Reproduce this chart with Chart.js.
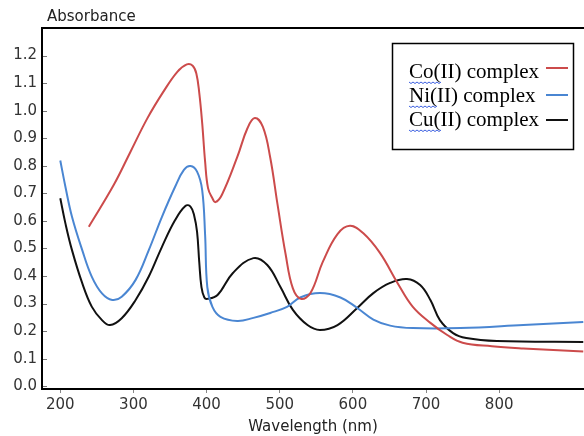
<!DOCTYPE html>
<html>
<head>
<meta charset="utf-8">
<script src="https://cdn.jsdelivr.net/npm/chart.js@4"></script>
<style>
  html, body { margin: 0; padding: 0; background: #fff; }
  canvas { display: block; }
</style>
</head>
<body>
<canvas id="myChart" width="584" height="436"></canvas>
<script>
// spectra (nm, absorbance)
const coWavelength = [239, 273, 296, 319, 341, 360, 373, 381, 386, 390, 394, 398, 402, 408, 412, 421, 442, 456, 466, 477, 487, 497, 508, 518, 529, 542, 559, 579, 596, 614, 637, 661, 682, 706, 729, 750, 790, 833, 915];
const coAbsorbance = [0.579, 0.730, 0.851, 0.972, 1.069, 1.141, 1.168, 1.163, 1.135, 1.065, 0.955, 0.815, 0.719, 0.682, 0.668, 0.695, 0.832, 0.937, 0.973, 0.941, 0.830, 0.660, 0.480, 0.355, 0.317, 0.338, 0.452, 0.552, 0.582, 0.556, 0.484, 0.375, 0.288, 0.230, 0.186, 0.158, 0.145, 0.137, 0.126];

const niWavelength = [200, 207, 216, 230, 243, 257, 271, 284, 303, 321, 339, 357, 369, 378, 387, 394, 398, 401, 408, 419, 442, 464, 487, 510, 528, 555, 583, 606, 628, 651, 682, 747, 833, 915];
const niAbsorbance = [0.819, 0.724, 0.615, 0.494, 0.398, 0.337, 0.313, 0.325, 0.386, 0.494, 0.615, 0.724, 0.785, 0.799, 0.779, 0.712, 0.549, 0.360, 0.288, 0.252, 0.237, 0.248, 0.266, 0.288, 0.322, 0.338, 0.322, 0.284, 0.242, 0.220, 0.211, 0.211, 0.222, 0.233];

const cuWavelength = [200, 207, 216, 230, 243, 257, 268, 284, 303, 321, 339, 357, 371, 378, 383, 387, 390, 393, 397, 401, 415, 436, 464, 483, 501, 518, 538, 555, 579, 606, 628, 651, 674, 692, 706, 719, 737, 755, 797, 915];
const cuAbsorbance = [0.682, 0.591, 0.494, 0.374, 0.289, 0.240, 0.222, 0.247, 0.313, 0.398, 0.506, 0.603, 0.654, 0.652, 0.620, 0.560, 0.450, 0.360, 0.322, 0.317, 0.331, 0.411, 0.465, 0.440, 0.360, 0.277, 0.222, 0.204, 0.222, 0.284, 0.338, 0.375, 0.389, 0.367, 0.313, 0.240, 0.193, 0.175, 0.164, 0.161];

const seriesNames = ['Co(II) complex', 'Ni(II) complex', 'Cu(II) complex'];
const seriesColors = ['#cc4b4b', '#4a86d2', '#111111'];

const xTicks = [200, 300, 400, 500, 600, 700, 800];
const yTicks = [0, 0.1, 0.2, 0.3, 0.4, 0.5, 0.6, 0.7, 0.8, 0.9, 1.0, 1.1, 1.2];

const toPoints = (xs, ys) => xs.map((x, i) => ({ x: x, y: ys[i] }));

const seriesData = [
    toPoints(coWavelength, coAbsorbance),
    toPoints(niWavelength, niAbsorbance),
    toPoints(cuWavelength, cuAbsorbance)
];

// frame top line, inner y ticks, "Absorbance" label and the boxed legend
const decorations = {
    id: 'decorations',
    afterDraw(chart) {
        const { ctx, chartArea } = chart;
        const yScale = chart.scales.y;
        ctx.save();

        ctx.strokeStyle = '#000';
        ctx.lineWidth = 2;
        ctx.beginPath();
        ctx.moveTo(chartArea.left - 1, chartArea.top);
        ctx.lineTo(chartArea.right, chartArea.top);
        ctx.stroke();

        ctx.strokeStyle = '#777';
        ctx.lineWidth = 1;
        yTicks.forEach(v => {
            const y = Math.round(yScale.getPixelForValue(v)) + 0.5;
            ctx.beginPath();
            ctx.moveTo(chartArea.left + 1, y);
            ctx.lineTo(chartArea.left + 5, y);
            ctx.stroke();
        });

        ctx.fillStyle = '#222';
        ctx.font = '15px "DejaVu Sans"';
        ctx.textAlign = 'left';
        ctx.textBaseline = 'middle';
        ctx.fillText('Absorbance', 47, 17);

        // legend box
        ctx.strokeStyle = '#000';
        ctx.lineWidth = 1.5;
        ctx.strokeRect(392.5, 43.5, 181, 106);

        const rowY = [72, 96, 120];
        const lineY = [68, 95, 120];
        const squiggleW = [33, 28, 33];
        ctx.font = '21px "Liberation Serif"';
        seriesNames.forEach((name, i) => {
            ctx.fillStyle = '#000';
            ctx.fillText(name, 409, rowY[i]);

            ctx.strokeStyle = seriesColors[i];
            ctx.lineWidth = 2;
            ctx.beginPath();
            ctx.moveTo(546, lineY[i]);
            ctx.lineTo(568, lineY[i]);
            ctx.stroke();

            // spell-check squiggle under the element symbol
            ctx.strokeStyle = '#3a5ee0';
            ctx.lineWidth = 1;
            ctx.beginPath();
            const sy = rowY[i] + 10;
            for (let x = 0; x <= squiggleW[i]; x += 2) {
                const yy = sy + ((x / 2) % 2 === 0 ? 0 : 1.5);
                if (x === 0) ctx.moveTo(409 + x, yy); else ctx.lineTo(409 + x, yy);
            }
            ctx.stroke();
        });

        ctx.restore();
    }
};

const ctx = document.getElementById('myChart');

new Chart(ctx, {
    type: 'line',
    data: {
        datasets: seriesData.map((pts, i) => ({
            label: seriesNames[i],
            data: pts,
            borderColor: seriesColors[i],
            borderWidth: 2,
            pointRadius: 0,
            fill: false,
            tension: 0.4
        }))
    },
    options: {
        responsive: false,
        animation: false,
        layout: { padding: { top: 28, right: 0, left: 0, bottom: 0 } },
        plugins: {
            legend: { display: false },
            tooltip: { enabled: false }
        },
        scales: {
            x: {
                type: 'linear',
                min: 175,
                max: 916,
                afterBuildTicks: scale => { scale.ticks = xTicks.map(v => ({ value: v })); },
                afterFit: scale => { scale.height = 47; },
                grid: { drawOnChartArea: false, drawTicks: true, tickLength: 4, color: '#888' },
                border: { display: true, color: '#000', width: 2 },
                ticks: {
                    color: '#333',
                    font: { family: 'DejaVu Sans', size: 15 },
                    padding: 3,
                    maxRotation: 0
                },
                title: {
                    display: true,
                    text: 'Wavelength (nm)',
                    color: '#222',
                    font: { family: 'DejaVu Sans', size: 15 },
                    padding: { top: 0, bottom: 0 }
                }
            },
            y: {
                min: -0.01,
                max: 1.3,
                afterBuildTicks: scale => { scale.ticks = yTicks.map(v => ({ value: v })); },
                afterFit: scale => { scale.width = 42; },
                grid: { drawOnChartArea: false, drawTicks: false },
                border: { display: true, color: '#000', width: 2 },
                ticks: {
                    color: '#333',
                    font: { family: 'DejaVu Sans', size: 15 },
                    padding: 5,
                    callback: v => v.toFixed(1)
                }
            }
        }
    },
    plugins: [decorations]
});
</script>
</body>
</html>
